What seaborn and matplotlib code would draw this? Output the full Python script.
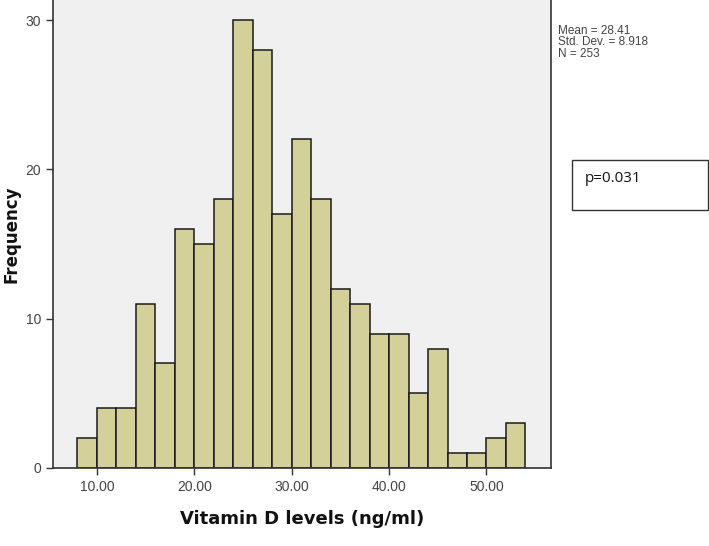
import numpy as np
import pandas as pd
import matplotlib
matplotlib.use("Agg")
import matplotlib.pyplot as plt
import seaborn as sns
from matplotlib.patches import Rectangle

# histogram bins (ng/ml) and counts read from the SPSS output
bin_edges = [8, 10, 12, 14, 16, 18, 20, 22, 24, 26, 28, 30, 32,
             34, 36, 38, 40, 42, 44, 46, 48, 50, 52, 54]
counts = [2, 4, 4, 11, 7, 16, 15, 18, 30, 28, 17, 22, 18,
          12, 11, 9, 9, 5, 8, 1, 1, 2, 3]
x_ticks = [10, 20, 30, 40, 50]
x_tick_labels = ["10.00", "20.00", "30.00", "40.00", "50.00"]
y_ticks = [0, 10, 20, 30]
stats_text = "Mean = 28.41\nStd. Dev. = 8.918\nN = 253"
p_text = "p=0.031"

centers = [(a + b) / 2 for a, b in zip(bin_edges[:-1], bin_edges[1:])]
df = pd.DataFrame({"vitd": centers, "n": counts})

sns.set_style("ticks")
plt.rcParams["font.family"] = ["Liberation Sans", "DejaVu Sans"]

fig = plt.figure(figsize=(7.09, 5.46), dpi=100)
ax = fig.add_axes([0.0748, 0.1429, 0.702, 0.8571])
ax.set_facecolor("#F0F0F0")

sns.histplot(
    data=df,
    x="vitd",
    weights="n",
    bins=bin_edges,
    color="#D4D09A",
    alpha=1,
    edgecolor="#1a1a1a",
    linewidth=1.1,
    ax=ax
)

ax.set_xlim(5.5, 56.6)
ax.set_ylim(0, 31.34)
ax.set_xticks(x_ticks)
ax.set_xticklabels(x_tick_labels)
ax.set_yticks(y_ticks)
ax.tick_params(axis="both", direction="out", length=5, width=1,
               color="#333333", labelcolor="#444444", labelsize=10)

for side in ["left", "bottom", "right"]:
    ax.spines[side].set_visible(True)
    ax.spines[side].set_color("#333333")
    ax.spines[side].set_linewidth(1.2)
ax.spines["top"].set_visible(False)

ax.set_xlabel("Vitamin D levels (ng/ml)", fontsize=13, fontweight="bold",
              family="DejaVu Sans", color="#111111", labelpad=12)
ax.set_ylabel("Frequency", fontsize=12, fontweight="bold",
              family="DejaVu Sans", color="#111111", va="center")
ax.yaxis.set_label_coords(-0.084, 0.5)

fig.text(0.787, 0.955, stats_text, fontsize=8.5, color="#444444",
         va="top", ha="left", linespacing=0.95)

box = Rectangle((572 / 709, 1 - 210 / 546), 136 / 709, 50 / 546,
                transform=fig.transFigure, facecolor="white",
                edgecolor="#333333", linewidth=1)
fig.patches.append(box)
fig.text(585 / 709, 1 - 179 / 546, p_text, fontsize=11, color="#111111",
         family="Open Sans", va="center", ha="left")

fig.savefig("out.png", dpi=100)
